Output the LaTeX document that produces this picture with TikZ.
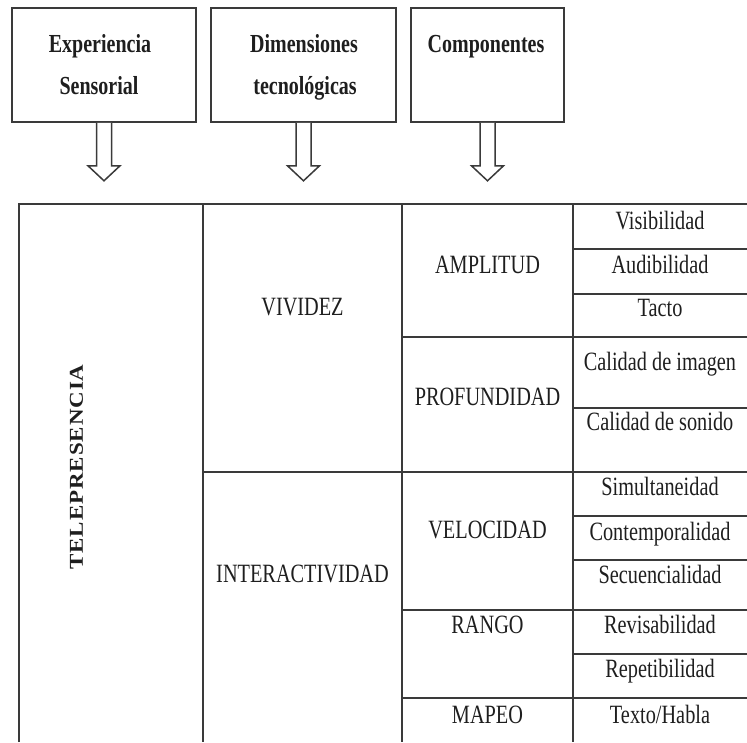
\documentclass[tikz,border=0pt]{standalone}
\usepackage{fontspec}
\setmainfont{Liberation Serif}
\usepackage{graphicx}
\usetikzlibrary{calc}
\newcommand\tallt[1]{\scalebox{1}[1.3]{#1}}
\definecolor{lin}{HTML}{3A3A3A}
\definecolor{ink}{HTML}{1E1E1E}
\begin{document}
\begin{tikzpicture}[x=1pt,y=-1pt,
  topbox/.style={draw=lin,line width=1.6pt,minimum height=114pt,inner sep=0pt},
  toptext/.style={anchor=base,inner sep=0pt,text=ink,font=\fontsize{20}{24}\selectfont\bfseries},
  cell/.style={anchor=base,inner sep=0pt,text=ink,font=\fontsize{20.3}{24}\selectfont},
  grid/.style={draw=lin,line width=1.6pt},
  blockarrow/.style={draw=lin,line width=1.5pt,fill=white,line join=miter}]
\useasboundingbox (0,0) rectangle (747,742);

% top boxes
\node[topbox,minimum width=184pt] (b1) at (104,65) {};
\node[topbox,minimum width=185pt] (b2) at (303.5,65) {};
\node[topbox,minimum width=153pt] (b3) at (487.5,65) {};

\node[toptext] (t1a) at (100,52) {\tallt{Experiencia}};
\node[toptext] (t1b) at (99,94) {\tallt{Sensorial}};
\node[toptext] (t2a) at (304,52) {\tallt{Dimensiones}};
\node[toptext] (t2b) at (305,94) {\tallt{tecnológicas}};
\node[toptext] (t3a) at (486,52) {\tallt{Componentes}};

% block arrows
\foreach \b in {b1,b2,b3}{
  \draw[blockarrow] ($(\b.south)+(-7.5,0)$) -- ($(\b.south)+(-7.5,43)$) -- ($(\b.south)+(-16,43)$)
    -- ($(\b.south)+(0,58)$) -- ($(\b.south)+(16,43)$) -- ($(\b.south)+(7.5,43)$) -- ($(\b.south)+(7.5,0)$);
}

% table grid
\draw[grid] (19,742) -- (19,204) -- (747,204);
\draw[grid] (203,204) -- (203,742);
\draw[grid] (402,204) -- (402,742);
\draw[grid] (573,204) -- (573,742);
\draw[grid] (203,472) -- (747,472);
\foreach \y in {337,610,698}{\draw[grid] (402,\y) -- (747,\y);}
\foreach \y in {249,294,408,516,560,654}{\draw[grid] (573,\y) -- (747,\y);}

% column 0
\node[rotate=90,inner sep=0pt,text=ink] (tele) at (76.5,467)
  {\resizebox{205pt}{13pt}{\addfontfeature{LetterSpace=4}\bfseries TELEPRESENCIA}};

% column 1
\node[cell] (viv) at (302.5,315) {\tallt{VIVIDEZ}};
\node[cell] (inter) at (302.5,582) {\tallt{INTERACTIVIDAD}};

% column 2
\node[cell] (amp) at (487.5,273) {\tallt{AMPLITUD}};
\node[cell] (prof) at (487.5,405) {\tallt{PROFUNDIDAD}};
\node[cell] (vel) at (487.5,538) {\tallt{VELOCIDAD}};
\node[cell] (ran) at (487.5,633) {\tallt{RANGO}};
\node[cell] (map) at (487.5,723) {\tallt{MAPEO}};

% column 3
\node[cell] (c1) at (660,229) {\tallt{Visibilidad}};
\node[cell] (c2) at (660,273) {\tallt{Audibilidad}};
\node[cell] (c3) at (660,316) {\tallt{Tacto}};
\node[cell] (c4) at (660,370) {\tallt{Calidad de imagen}};
\node[cell] (c5) at (660,430) {\tallt{Calidad de sonido}};
\node[cell] (c6) at (660,495) {\tallt{Simultaneidad}};
\node[cell] (c7) at (660,540) {\tallt{Contemporalidad}};
\node[cell] (c8) at (660,583) {\tallt{Secuencialidad}};
\node[cell] (c9) at (660,633) {\tallt{Revisabilidad}};
\node[cell] (c10) at (660,677) {\tallt{Repetibilidad}};
\node[cell] (c11) at (660,723) {\tallt{Texto/Habla}};
\end{tikzpicture}
\end{document}
